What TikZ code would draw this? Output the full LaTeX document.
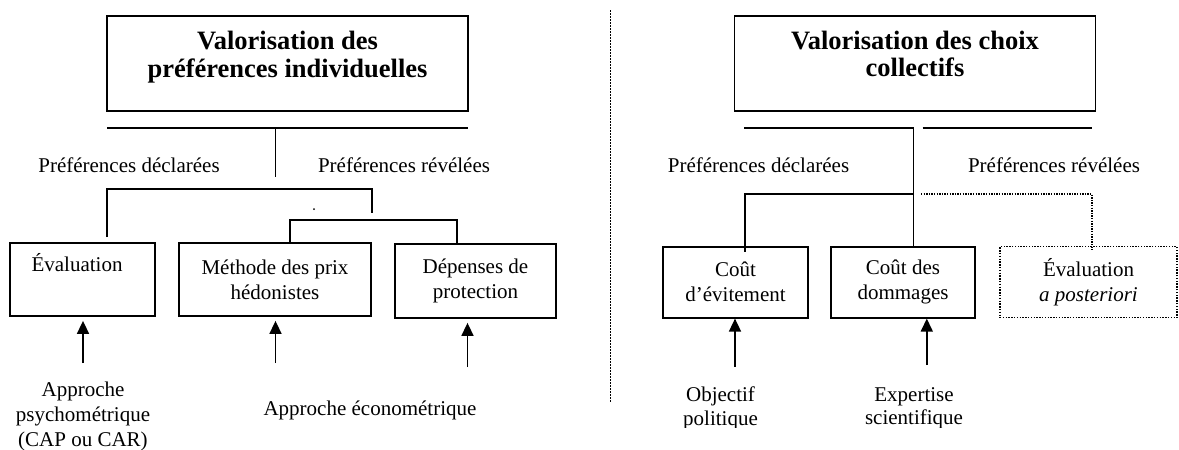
\documentclass[tikz,border=0pt]{standalone}
\usepackage{fontspec}
\setmainfont{Liberation Serif}
\usetikzlibrary{arrows.meta}
\newcommand{\bodyfont}{\fontsize{21}{25}\selectfont}
\newcommand{\titlefont}{\fontsize{26.5}{27.4}\selectfont\bfseries}
\tikzset{
  box/.style={draw, line width=1.8pt, inner sep=0pt, align=center, font=\bodyfont},
  dotbox/.style={box, line width=1.5pt, dash pattern=on 1.4pt off 1.4pt},
  titlebox/.style={draw, line width=1.8pt, inner sep=0pt},
  titletext/.style={inner sep=0pt, align=center, font=\titlefont},
  lbl/.style={inner sep=0pt, align=center, font=\bodyfont},
  conn/.style={line width=1.3pt},
  dotconn/.style={line width=1.3pt, dash pattern=on 1.3pt off 1.3pt},
  arr/.style={line width=1.6pt, -{Triangle[width=12pt,length=13pt]}}
}
\begin{document}
\begin{tikzpicture}[x=1pt,y=-1pt]
\useasboundingbox (0,0) rectangle (1179,450);
% ---------- left part ----------
\node[titlebox, minimum width=361pt, minimum height=95pt] (t1) at (287.5,63.5) {};
\node[titletext] (t1txt) at (287.5,57) {Valorisation des\\préférences individuelles};
\coordinate (h1l) at (107,128);
\coordinate (h1r) at (468,128);
\coordinate (s1t) at (275.5,128);
\coordinate (s1b) at (275.5,177);
\draw[conn] (h1l) -- (h1r);
\draw[conn] (s1t) -- (s1b);
\node[lbl] (pd1) at (129,165) {Préférences déclarées};
\node[lbl] (pr1) at (404,165) {Préférences révélées};

\node[box, minimum width=145pt, minimum height=73pt] (e1) at (82.5,279.5) {\hspace*{-11pt}Évaluation\\[2pt]\strut};
\node[box, minimum width=192pt, minimum height=73pt] (m1) at (275,279.5) {Méthode des prix\\hédonistes};
\node[box, minimum width=161pt, minimum height=74pt] (d1) at (475.5,281) {Dépenses de\\protection};

\coordinate (b1l) at (107,189);
\coordinate (b1r) at (372,189);
\coordinate (b1lb) at (107,237);
\coordinate (b1rb) at (372,213);
\draw[conn] (b1lb) -- (b1l) -- (b1r) -- (b1rb);
\fill (314,209) circle (1pt);
\coordinate (b2l) at (290,220);
\coordinate (b2r) at (457,220);
\draw[conn] (b2l |- m1.north) -- (b2l) -- (b2r) -- (b2r |- d1.north);

\coordinate (a1) at (83,363);
\coordinate (a2) at (275.5,363);
\coordinate (a3) at (467.5,367);
\draw[arr] (a1) -- ([yshift=-4pt]a1 |- e1.south);
\draw[arr] (a2) -- ([yshift=-4pt]a2 |- m1.south);
\draw[arr] (a3) -- ([yshift=-4pt]a3 |- d1.south);

\node[lbl] (l1) at (83,416) {Approche\\psychométrique\\(CAP ou CAR)};
\node[lbl] (l2) at (370,410.5) {Approche économétrique};

% ---------- separator ----------
\coordinate (sepT) at (610.6,10);
\coordinate (sepB) at (610.6,402);
\draw[line width=1.6pt, dash pattern=on 1.5pt off 1.5pt] (sepT) -- (sepB);

% ---------- right part ----------
\node[titlebox, minimum width=361pt, minimum height=95pt] (t2) at (915,63.5) {};
\node[titletext] (t2txt) at (915,54.2) {Valorisation des choix\\collectifs};
\coordinate (h2a) at (744,128);
\coordinate (h2b) at (914,128);
\coordinate (h2c) at (922.6,128);
\coordinate (h2d) at (1092,128);
\draw[conn] (h2a) -- (h2b);
\draw[conn] (h2c) -- (h2d);
\node[lbl] (pd2) at (758.5,165) {Préférences déclarées};
\node[lbl] (pr2) at (1054,165) {Préférences révélées};

\node[box, minimum width=145pt, minimum height=71pt] (c1) at (735.5,282.2) {Coût\\d’évitement};
\node[box, minimum width=144pt, minimum height=71pt] (c2) at (903,282.2) {Coût des\\dommages};
\node[dotbox, minimum width=177pt, minimum height=71pt] (c3) at (1088.5,282.2) {Évaluation\\\textit{a posteriori}};

\coordinate (s2t) at (913.5,128);
\coordinate (bk2) at (913.5,194);
\coordinate (bl2) at (745,194);
\draw[conn] (s2t) -- (bk2) -- (bk2 |- c2.north);
\draw[conn] (bk2) -- (bl2) -- ([yshift=-6pt]bl2 |- c1.north);
\coordinate (dt1) at (921,194);
\coordinate (dt2) at (1092,194);
\draw[dotconn] (dt1) -- (dt2) -- ([yshift=-4pt]dt2 |- c3.north);

\coordinate (a4) at (735,366.7);
\coordinate (a5) at (926.8,365);
\draw[arr] (a4) -- (a4 |- c1.south);
\draw[arr] (a5) -- (a5 |- c2.south);

\begin{scope}
\clip (620,370) rectangle (1179,427.3);
\node[lbl, font=\fontsize{21}{23.3}\selectfont] (l3) at (720.5,408.4) {Objectif\\politique};
\node[lbl, font=\fontsize{21}{23.3}\selectfont] (l4) at (914,408.4) {Expertise\\scientifique};
\end{scope}
\end{tikzpicture}
\end{document}
